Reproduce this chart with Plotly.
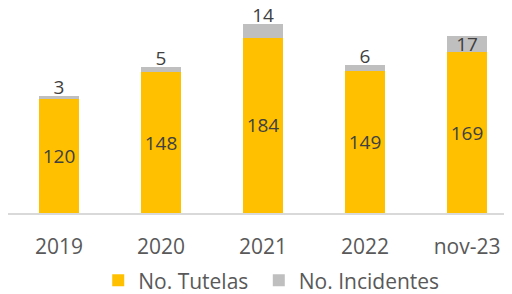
import plotly.graph_objects as go

categories = ["2019", "2020", "2021", "2022", "nov-23"]
tutelas = [120, 148, 184, 149, 169]
incidentes = [3, 5, 14, 6, 17]
inc_label_inside = [False, False, False, False, True]

totals = [t + i for t, i in zip(tutelas, incidentes)]
FONT = "Open Sans"
LABEL_FONT = dict(family=FONT, size=19, color="#404040")
Y_MAX = 215.3
LABEL_SHIFT = 2.9  # axis offset so labels sit just above the bars

fig = go.Figure()
fig.add_trace(go.Bar(
    x=categories, y=tutelas, name="No. Tutelas\u00a0",
    marker=dict(color="#FFC000", line=dict(width=0)),
    text=[str(v) for v in tutelas], textposition="inside", textangle=0,
    insidetextanchor="middle", constraintext="none",
    textfont=LABEL_FONT, hoverinfo="x+y+name",
))
fig.add_trace(go.Bar(
    x=categories, y=incidentes, name="No. Incidentes",
    marker=dict(color="#BFBFBF", line=dict(width=0)),
    text=[str(v) if ins else "" for v, ins in zip(incidentes, inc_label_inside)],
    textposition="inside", textangle=0,
    insidetextanchor="middle", constraintext="none", cliponaxis=False,
    textfont=LABEL_FONT, hoverinfo="x+y+name",
))
fig.add_trace(go.Scatter(
    x=categories, y=totals, mode="text", yaxis="y2",
    text=["" if ins else str(v) for v, ins in zip(incidentes, inc_label_inside)],
    textposition="top center", textfont=LABEL_FONT,
    showlegend=False, hoverinfo="skip", cliponaxis=False,
))
# page body has an 8px margin, so the figure is sized to the remaining area
fig.update_layout(
    width=504, height=286, autosize=False,
    barmode="stack", bargap=0.6,
    margin=dict(l=0, r=0, t=0, b=81, autoexpand=False),
    paper_bgcolor="white", plot_bgcolor="white",
    showlegend=True,
    legend=dict(orientation="h", x=0.179, xanchor="left", y=-0.33, yanchor="middle",
                font=dict(family=FONT, size=21, color="#595959"),
                traceorder="normal"),
    font=dict(family=FONT, color="#595959"),
    yaxis=dict(range=[0, Y_MAX], visible=False, showgrid=False),
    yaxis2=dict(range=[LABEL_SHIFT, Y_MAX + LABEL_SHIFT], overlaying="y",
                visible=False, showgrid=False),
)
fig.update_xaxes(
    type="category", range=[-0.5, 4.441],
    showline=True, linecolor="#D9D9D9", linewidth=2, showgrid=False,
    ticks="outside", ticklen=14, tickcolor="rgba(0,0,0,0)",
    tickfont=dict(family=FONT, size=21, color="#595959"),
)
fig.write_html("out.html")
